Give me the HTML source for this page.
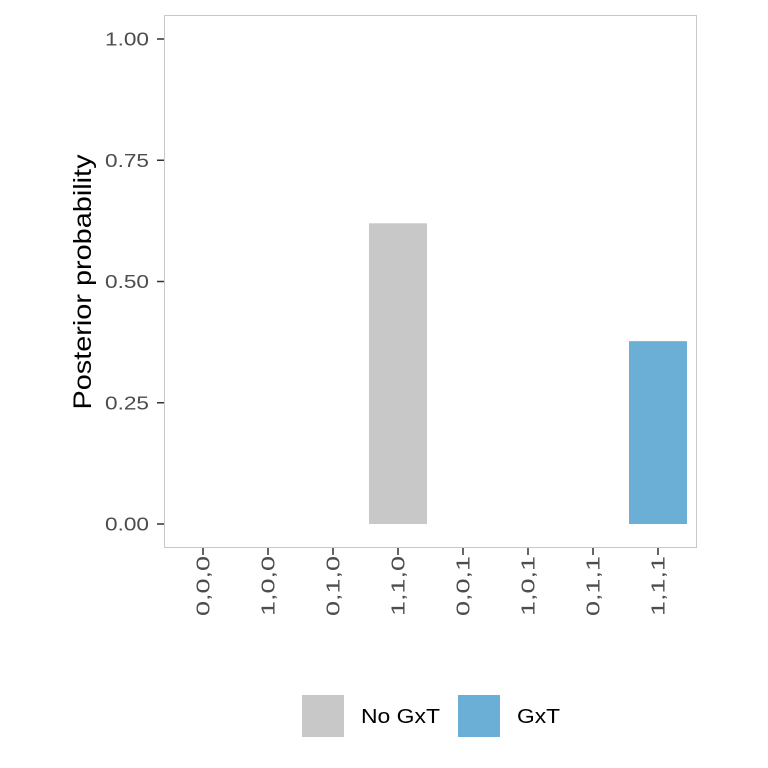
<!DOCTYPE html>
<html><head><meta charset="utf-8"><style>
html,body{margin:0;padding:0;background:#fff;}
svg{display:block;font-family:"Liberation Sans",Arial,sans-serif;}
</style></head><body>
<svg id="chart" width="768" height="768"></svg>
<script>
const categories=["0,0,0","1,0,0","0,1,0","1,1,0","0,0,1","1,0,1","0,1,1","1,1,1"];
const values=[0,0,0,0.62,0,0,0,0.377];
const groups=["none","none","none","No GxT","none","none","none","GxT"];
const yTicks=[0,0.25,0.5,0.75,1];
const yTickLabels=["0.00","0.25","0.50","0.75","1.00"];
const legendLabels=["No GxT","GxT"];
const colors={"No GxT":"#c8c8c8","GxT":"#6baed6"};
const NS="http://www.w3.org/2000/svg";
const svg=document.getElementById('chart');
const L=164,R=697,T=15,B=548;
const y=v=>524-v*485;
const x=i=>203+i*65;
function mk(t,a){const e=document.createElementNS(NS,t);for(const k in a)e.setAttribute(k,a[k]);svg.appendChild(e);return e;}
const panel=mk('rect',{x:L+0.5,y:T+0.5,width:R-L-1,height:B-T-1,fill:'#fff',stroke:'#c8c8c8','stroke-width':1});


values.forEach((v,i)=>{
  if(v<=0)return;
  const b=mk('rect',{x:x(i)-29,y:y(v),width:58,height:y(0)-y(v),fill:colors[groups[i]]});
  
  
});
yTicks.forEach((v,i)=>{
  const tk=mk('line',{x1:157,x2:164,y1:y(v),y2:y(v),stroke:'#333','stroke-width':1.5});
  
  
  const t=mk('text',{x:149,y:y(v)+6.5,'text-anchor':'end','font-size':18,fill:'#4d4d4d',textLength:44,lengthAdjust:'spacingAndGlyphs'});
  t.textContent=yTickLabels[i];
  
  
});
categories.forEach((c,i)=>{
  const tk=mk('line',{x1:x(i),x2:x(i),y1:548,y2:555,stroke:'#333','stroke-width':1.5});
  
  
  const t=mk('text',{x:0,y:0,'text-anchor':'end','font-size':18,fill:'#4d4d4d',textLength:60,lengthAdjust:'spacingAndGlyphs',transform:`translate(${x(i)+6.5},556) rotate(-90)`});
  t.textContent=c;
  
  
});
const yt=mk('text',{x:0,y:0,'text-anchor':'middle','font-size':25,fill:'#000',textLength:255,lengthAdjust:'spacingAndGlyphs',transform:'translate(91,282) rotate(-90)'});
yt.textContent='Posterior probability';


const lx=[302,458];
const lw=[79,43];
legendLabels.forEach((l,i)=>{
  const r=mk('rect',{x:lx[i],y:695,width:42,height:42,fill:colors[l]});
  
  
  const t=mk('text',{x:lx[i]+59,y:723,'font-size':20,fill:'#000',textLength:lw[i],lengthAdjust:'spacingAndGlyphs'});
  t.textContent=l;
  
  
});
</script>
</body></html>
